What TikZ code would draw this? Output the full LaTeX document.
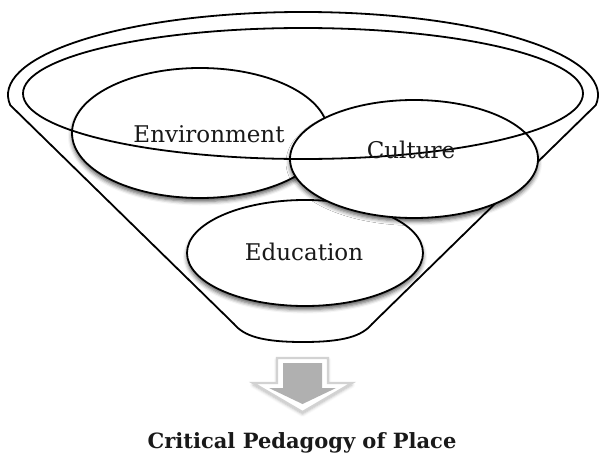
\documentclass[tikz,border=0pt]{standalone}
\usepackage{fontspec}
\setmainfont{DejaVu Serif}
\usetikzlibrary{shapes.geometric,shadows.blur}
\begin{document}
\begin{tikzpicture}[x=1pt,y=-1pt,line width=1.8pt,
  oval/.style={ellipse,draw=black,fill=white,inner sep=0pt,
    blur shadow={shadow xshift=0pt,shadow yshift=-3.5pt,shadow blur radius=4pt,shadow opacity=65}},
  lbl/.style={anchor=base,text=black!90,inner sep=0pt,font=\fontsize{23}{23}\selectfont},
  rim/.style={draw=black,line width=1.8pt},
  arrowout/.style={draw=gray!35,line width=2.2pt,fill=white,line join=miter,
    blur shadow={shadow xshift=0pt,shadow yshift=-2pt,shadow blur radius=3pt,shadow opacity=30}},
  arrowin/.style={fill=gray!62,draw=none}]
\useasboundingbox (0,0) rectangle (599,455);
% funnel body
\draw[rim,line join=round] (10.2,105.1) arc[start angle=173,end angle=367,x radius=295,y radius=83]
  -- (372,324) .. controls (362,336) and (344,342) .. (303,342)
  .. controls (262,342) and (244,336) .. (234,324) -- cycle;
% ellipses
\node[oval,minimum width=236pt,minimum height=106pt] (edu) at (305,253) {};
\node[oval,minimum width=256pt,minimum height=130pt] (env) at (200,133) {};
\node[oval,minimum width=248pt,minimum height=118pt] (cul) at (414,159) {};
% inner rim on top
\draw[rim] (303,93.5) ellipse[x radius=280,y radius=65.5];
% labels
\node[lbl] (envt) at (209,142) {Environment};
\node[lbl] (cult) at (411,158) {Culture};
\node[lbl] (edut) at (304,260) {Education};
% arrow
\path[arrowout] (277,358) -- (328,358) -- (328,383) -- (352,383) -- (302.5,412) -- (253,383) -- (277,383) -- cycle;
\path[arrowin] (283,363) -- (322,363) -- (322,388) -- (336,388) -- (302.5,404) -- (269,388) -- (283,388) -- cycle;
\node[anchor=base,inner sep=0pt,text=black!90,font=\fontsize{21}{21}\selectfont\bfseries] (cap) at (302,448) {Critical Pedagogy of Place};
\end{tikzpicture}
\end{document}
